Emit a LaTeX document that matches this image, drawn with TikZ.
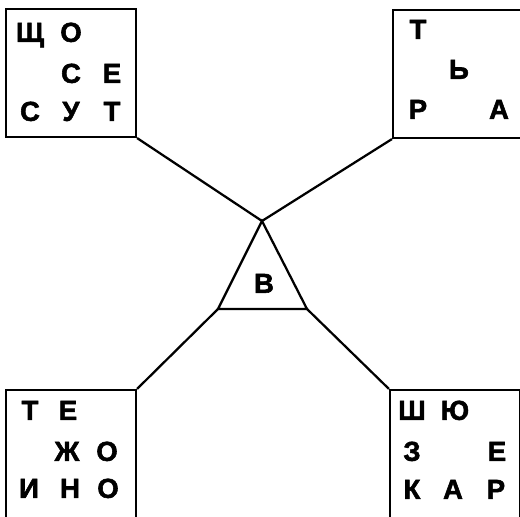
\documentclass[tikz,border=0pt]{standalone}
\usepackage{fontspec}
\setmainfont{Liberation Sans}
\newfontfamily\heavyfont[FakeBold=2]{Liberation Sans Bold}
\begin{document}
\begin{tikzpicture}[x=0.025cm, y=-0.025cm, ink/.style={line width=1.6pt, black, line join=miter}, box/.style={draw, line width=1.5pt, minimum width=3.25cm, minimum height=3.2cm, inner sep=0pt}, letter/.style={font=\fontsize{19.5}{22}\heavyfont, text height=14pt, text depth=0pt, inner sep=0pt}]
\useasboundingbox (0,0) rectangle (520,517);
\node[box] (tl) at (71,73) {};
\node[box] (tr) at (458,74) {};
\node[box] (bl) at (71,454) {};
\node[box] (br) at (455,454) {};
\node[letter] (tl11) at (30,32) {Щ};
\node[letter] (tl12) at (71,32) {О};
\node[letter] (tl22) at (71,73) {С};
\node[letter] (tl23) at (112,73) {Е};
\node[letter] (tl31) at (30,111) {С};
\node[letter] (tl32) at (71,111) {У};
\node[letter] (tl33) at (112,111) {Т};
\node[letter] (tr11) at (418,29) {Т};
\node[letter] (tr22) at (459,69) {Ь};
\node[letter] (tr31) at (418,109) {Р};
\node[letter] (tr33) at (499,109) {А};
\node[letter] (bl11) at (30,410) {Т};
\node[letter] (bl12) at (68,410) {Е};
\node[letter] (bl22) at (67,451) {Ж};
\node[letter] (bl23) at (107,451) {О};
\node[letter] (bl31) at (29,488) {И};
\node[letter] (bl32) at (70,488) {Н};
\node[letter] (bl33) at (108,488) {О};
\node[letter] (br11) at (412,410) {Ш};
\node[letter] (br12) at (455,410) {Ю};
\node[letter] (br21) at (412,451) {З};
\node[letter] (br23) at (497,451) {Е};
\node[letter] (br31) at (412,489) {К};
\node[letter] (br32) at (453,489) {А};
\node[letter] (br33) at (496,489) {Р};
\coordinate (apex) at (262,221);
\coordinate (tbl) at (218,309);
\coordinate (tbr) at (307,309);
\draw[ink] (apex) -- (tbl) -- (tbr) -- cycle;
\node[letter] (mid) at (264,283) {В};
\draw[ink] (tl.south east) -- (apex);
\draw[ink] (tr.south west) -- (apex);
\draw[ink] (bl.north east) -- (tbl);
\draw[ink] (br.north west) -- (tbr);
\end{tikzpicture}
\end{document}
